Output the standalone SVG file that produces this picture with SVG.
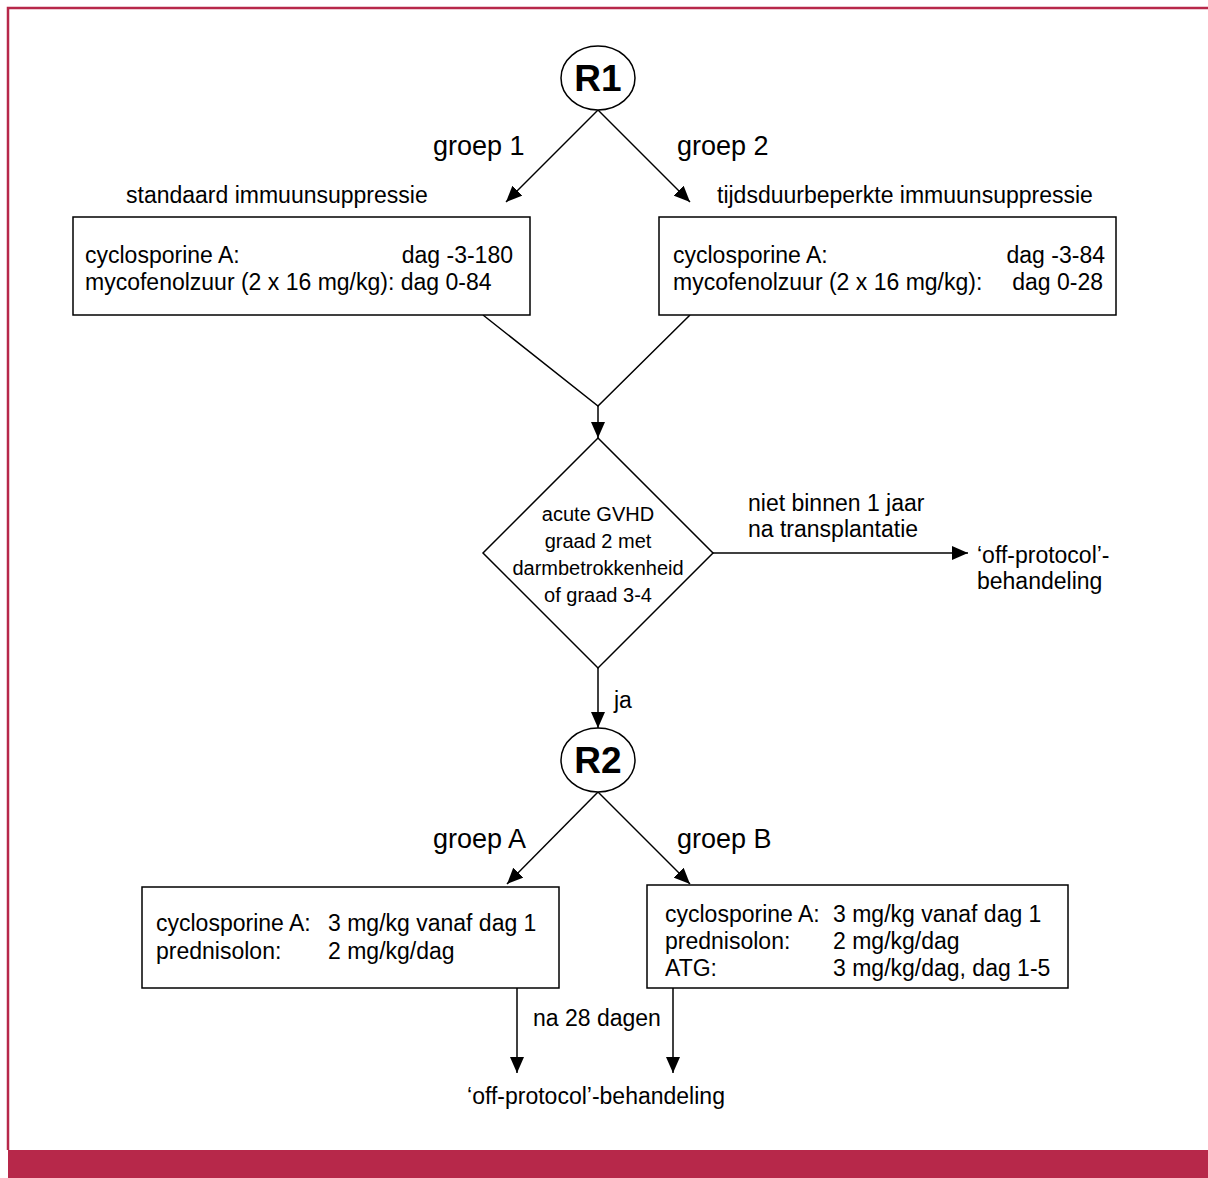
<svg xmlns="http://www.w3.org/2000/svg" width="1208" height="1178" viewBox="0 0 1208 1178">
<style>
text{font-family:"Liberation Sans",Arial,sans-serif;fill:#000}
.t{font-size:23px}
.g{font-size:27px}
.d{font-size:20px}
.r{font-size:37px;font-weight:bold}
.box{fill:#fff;stroke:#000;stroke-width:1.5}
.ln{fill:none;stroke:#000;stroke-width:1.5}
.ar{fill:none;stroke:#000;stroke-width:1.5;marker-end:url(#ah)}
</style>
<defs>
<marker id="ah" viewBox="0 0 16 14" refX="16" refY="7" markerWidth="16" markerHeight="14" markerUnits="userSpaceOnUse" orient="auto"><path d="M0,0 L16,7 L0,14 z" fill="#000"/></marker>
</defs>
<rect x="0" y="0" width="1208" height="1178" fill="#fff"/>
<path d="M8,1150 V8 H1208" fill="none" stroke="#B7284A" stroke-width="2.5"/>
<rect x="8" y="1150" width="1200" height="28" fill="#B7284A"/>

<g id="connectors">
<line class="ar" x1="598" y1="110" x2="506" y2="202"/>
<line class="ar" x1="598" y1="110" x2="690" y2="202"/>
<polyline class="ln" points="483,315 598,406 690,315"/>
<line class="ar" x1="598" y1="406" x2="598" y2="438"/>
<line class="ar" x1="713" y1="553" x2="968" y2="553"/>
<line class="ar" x1="598" y1="668" x2="598" y2="728"/>
<line class="ar" x1="598" y1="792" x2="507" y2="884"/>
<line class="ar" x1="598" y1="792" x2="690" y2="884"/>
<line class="ar" x1="517" y1="988" x2="517" y2="1073"/>
<line class="ar" x1="673" y1="988" x2="673" y2="1073"/>
<text class="g" x="433" y="155">groep 1</text>
<text class="g" x="677" y="155">groep 2</text>
<text class="t" x="748" y="511">niet binnen 1 jaar</text>
<text class="t" x="748" y="537">na transplantatie</text>
<text class="t" x="614" y="708">ja</text>
<text class="g" x="433" y="848">groep A</text>
<text class="g" x="677" y="848">groep B</text>
<text class="t" x="533" y="1026">na 28 dagen</text>
</g>

<g id="R1">
<ellipse class="box" cx="598" cy="78" rx="37" ry="32"/>
<text class="r" x="598" y="91" text-anchor="middle">R1</text>
</g>

<g id="groep1">
<text class="t" x="126" y="203">standaard immuunsuppressie</text>
<rect class="box" x="73" y="217" width="457" height="98"/>
<text class="t" x="85" y="263">cyclosporine A:</text>
<text class="t" x="513" y="263" text-anchor="end">dag -3-180</text>
<text class="t" x="85" y="290">mycofenolzuur (2 x 16 mg/kg): dag 0-84</text>
</g>

<g id="groep2">
<text class="t" x="717" y="203">tijdsduurbeperkte immuunsuppressie</text>
<rect class="box" x="659" y="217" width="457" height="98"/>
<text class="t" x="673" y="263">cyclosporine A:</text>
<text class="t" x="1105" y="263" text-anchor="end">dag -3-84</text>
<text class="t" x="673" y="290">mycofenolzuur (2 x 16 mg/kg):</text>
<text class="t" x="1103" y="290" text-anchor="end">dag 0-28</text>
</g>

<g id="decision">
<polygon class="box" points="598,438 713,553 598,668 483,553"/>
<text class="d" x="598" y="521" text-anchor="middle">acute GVHD</text>
<text class="d" x="598" y="548" text-anchor="middle">graad 2 met</text>
<text class="d" x="598" y="575" text-anchor="middle">darmbetrokkenheid</text>
<text class="d" x="598" y="602" text-anchor="middle">of graad 3-4</text>
</g>

<g id="offprotocol1">
<text class="t" x="977" y="563">‘off-protocol’-</text>
<text class="t" x="977" y="589">behandeling</text>
</g>

<g id="R2">
<ellipse class="box" cx="598" cy="760" rx="37" ry="32"/>
<text class="r" x="598" y="773" text-anchor="middle">R2</text>
</g>

<g id="groepA">
<rect class="box" x="142" y="887" width="417" height="101"/>
<text class="t" x="156" y="931">cyclosporine A:</text>
<text class="t" x="328" y="931">3 mg/kg vanaf dag 1</text>
<text class="t" x="156" y="959">prednisolon:</text>
<text class="t" x="328" y="959">2 mg/kg/dag</text>
</g>

<g id="groepB">
<rect class="box" x="647" y="885" width="421" height="103"/>
<text class="t" x="665" y="922">cyclosporine A:</text>
<text class="t" x="833" y="922">3 mg/kg vanaf dag 1</text>
<text class="t" x="665" y="949">prednisolon:</text>
<text class="t" x="833" y="949">2 mg/kg/dag</text>
<text class="t" x="665" y="976">ATG:</text>
<text class="t" x="833" y="976">3 mg/kg/dag, dag 1-5</text>
</g>

<g id="offprotocol2">
<text class="t" x="596" y="1104" text-anchor="middle">‘off-protocol’-behandeling</text>
</g>
</svg>
